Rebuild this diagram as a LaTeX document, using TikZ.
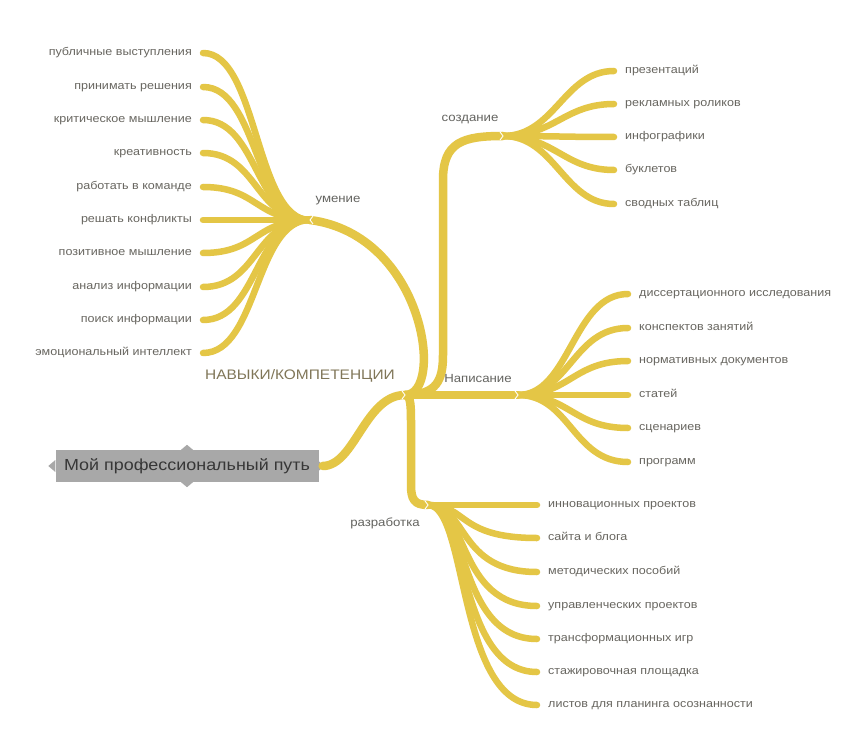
\documentclass[tikz,border=0pt]{standalone}
\usepackage{fontspec}
\setmainfont{Liberation Sans}[FakeStretch=1.12]
\usetikzlibrary{calc}
\definecolor{br}{RGB}{228,198,70}
\definecolor{lblc}{RGB}{104,102,96}
\definecolor{mainc}{RGB}{100,100,96}
\definecolor{hubc}{RGB}{128,118,88}
\definecolor{boxc}{RGB}{168,168,168}
\definecolor{boxt}{RGB}{55,55,55}
\tikzset{
  trunk/.style={draw=br, line width=8.5pt, line cap=round},
  twig/.style={draw=br, line width=6.5pt, line cap=round},
  lbl/.style={text=lblc, font=\fontsize{11.2}{13}\selectfont, inner xsep=11pt, inner ysep=0pt, text height=7.5pt, text depth=2pt},
  mainlbl/.style={text=mainc, font=\fontsize{11.8}{13}\selectfont, inner sep=0pt},
  chev/.style={draw=white, line width=0.9pt}
}
\begin{document}
\begin{tikzpicture}[x=1pt,y=-1pt]
\useasboundingbox (0,0) rectangle (853,743);
\fill[white] (0,0) rectangle (853,743);

% junctions
\coordinate (H) at (405,395);
\coordinate (U) at (310,220);
\coordinate (C) at (503,136);
\coordinate (N) at (518,395);
\coordinate (R) at (428,505);
\coordinate (ca) at (443,355);
\coordinate (cb) at (443,180);
\coordinate (ra) at (411,425);
\coordinate (rb) at (411,485);

% root
\node[fill=boxc, text=boxt, minimum width=263pt, minimum height=32pt, inner sep=0pt,
      font=\fontsize{16}{18}\selectfont] (rt) at (187,466) {Мой профессиональный путь};
\fill[boxc] ($(rt.west)+(0,-6)$) -- ($(rt.west)+(-7,0)$) -- ($(rt.west)+(0,6)$) -- cycle;
\fill[boxc] ($(rt.north)+(-6,0)$) -- ($(rt.north)+(0,-5)$) -- ($(rt.north)+(6,0)$) -- cycle;
\fill[boxc] ($(rt.south)+(-6,0)$) -- ($(rt.south)+(0,5)$) -- ($(rt.south)+(6,0)$) -- cycle;
\fill[boxc] ($(rt.east)+(0,-5)$) -- ($(rt.east)+(5,0)$) -- ($(rt.east)+(0,5)$) -- cycle;

% main branches
\draw[trunk] ($(rt.east)+(4,0)$) .. controls +(32,0) and +(-40,0) .. (H);
\draw[trunk] (H) .. controls +(40,0) and +(115,15) .. (U);
\draw[trunk] (H) .. controls +(32,0) and +(0,25) .. (ca) -- (cb) .. controls +(0,-38) and +(-40,0) .. (C);
\draw[trunk] (H) -- (N);
\draw[trunk] (H) .. controls +(6,0) and +(0,-18) .. (ra) -- (rb) .. controls +(0,14) and +(-14,0) .. (R);

% labels of main branches
\node[text=hubc, font=\fontsize{13.8}{15}\selectfont, inner sep=0pt] (hub) at (300,376) {НАВЫКИ/КОМПЕТЕНЦИИ};
\node[mainlbl] (lu) at (338,201) {умение};
\node[mainlbl] (lc) at (470,120) {создание};
\node[mainlbl] (ln) at (478,378) {Написание};
\node[mainlbl] (lr) at (385,523) {разработка};

% умение
\foreach \t/\y/\n in {публичные выступления/53/u1, принимать решения/87/u2, критическое мышление/120/u3,
  креативность/153/u4, работать в команде/187/u5, решать конфликты/220/u6, позитивное мышление/253/u7,
  анализ информации/287/u8, поиск информации/320/u9, эмоциональный интеллект/353/u10}{
  \node[lbl, anchor=east] (\n) at (203,\y) {\t};
  \draw[twig] (U) .. controls +(-55,0) and +(55,0) .. (\n.east);
}
% создание
\foreach \t/\y/\n in {презентаций/71/s1, рекламных роликов/104/s2, инфографики/137/s3,
  буклетов/170/s4, сводных таблиц/204/s5}{
  \node[lbl, anchor=west] (\n) at (614,\y) {\t};
  \draw[twig] (C) .. controls +(52,0) and +(-50,0) .. (\n.west);
}
% Написание
\foreach \t/\y/\n in {диссертационного исследования/294/n1, конспектов занятий/328/n2,
  нормативных документов/361/n3, статей/395/n4, сценариев/428/n5, программ/462/n6}{
  \node[lbl, anchor=west] (\n) at (628,\y) {\t};
  \draw[twig] (N) .. controls +(52,0) and +(-55,0) .. (\n.west);
}
% разработка
\foreach \t/\y/\n in {инновационных проектов/505/r1, сайта и блога/538/r2, методических пособий/572/r3,
  управленческих проектов/606/r4, трансформационных игр/639/r5, стажировочная площадка/672/r6,
  листов для планинга осознанности/705/r7}{
  \node[lbl, anchor=west] (\n) at (537,\y) {\t};
  \draw[twig] (R) .. controls +(40,0) and +(-80,0) .. (\n.west);
}

% chevrons at junctions
\draw[chev] ($(H)+(-3,-4)$) -- ($(H)+(0,0)$) -- ($(H)+(-3,4)$);
\draw[chev] ($(C)+(-3,-4)$) -- ($(C)+(0,0)$) -- ($(C)+(-3,4)$);
\draw[chev] ($(N)+(-3,-4)$) -- ($(N)+(0,0)$) -- ($(N)+(-3,4)$);
\draw[chev] ($(R)+(-3,-4)$) -- ($(R)+(0,0)$) -- ($(R)+(-3,4)$);
\draw[chev] ($(U)+(3,-4)$) -- ($(U)+(0,0)$) -- ($(U)+(3,4)$);
\end{tikzpicture}
\end{document}
